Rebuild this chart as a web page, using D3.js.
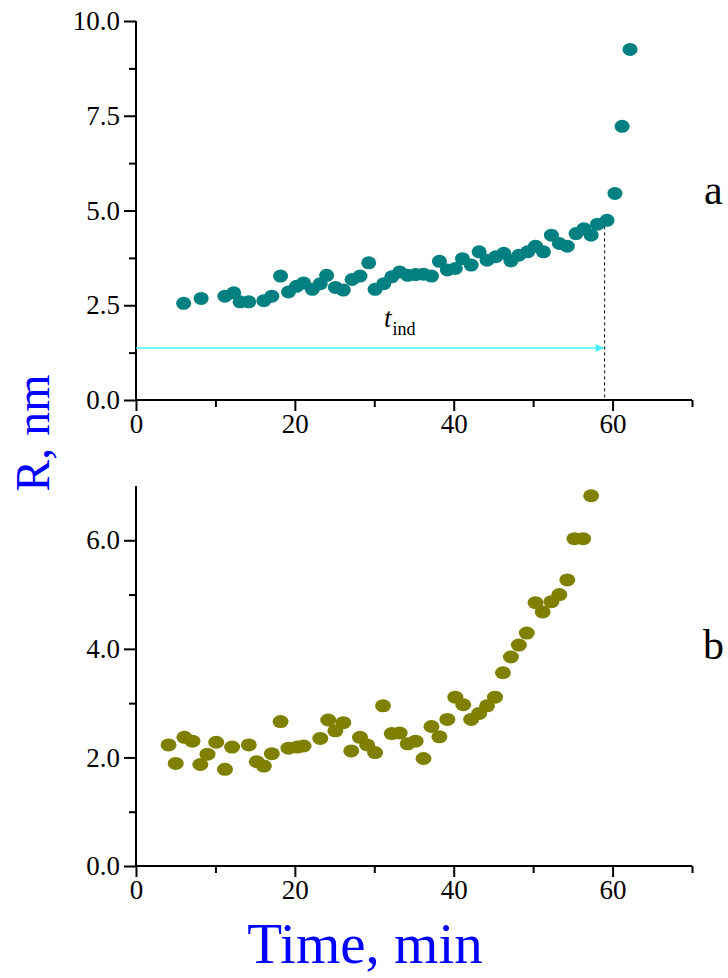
<!DOCTYPE html>
<html>
<head>
<meta charset="utf-8">
<script src="https://cdn.jsdelivr.net/npm/d3@7"></script>
<style>
  html, body { margin: 0; padding: 0; background: #fff; }
  svg { display: block; }
  svg text { font-family: "Liberation Serif", "Times New Roman", serif !important; }
  .tick text { font-size: 27px !important; fill: #000; }
</style>
</head>
<body>
<svg id="chart" width="728" height="978"></svg>
<script>
// ---------- data ----------
const topX = [6.0, 8.2, 11.2, 12.3, 13.1, 14.2, 16.1, 17.1, 18.2, 19.2,
              20.2, 21.1, 22.2, 23.2, 24.0, 25.1, 26.1, 27.2, 28.2, 29.3,
              30.1, 31.2, 32.2, 33.2, 34.2, 35.2, 36.2, 37.2, 38.2, 39.2,
              40.2, 41.1, 42.2, 43.2, 44.2, 45.3, 46.3, 47.2, 48.2, 49.3,
              50.3, 51.3, 52.3, 53.3, 54.3, 55.4, 56.4, 57.3, 58.1, 59.3,
              60.3, 61.2, 62.2];
const topY = [2.55, 2.68, 2.74, 2.83, 2.59, 2.59, 2.62, 2.74, 3.27, 2.85,
              3.00, 3.09, 2.92, 3.07, 3.29, 2.97, 2.90, 3.18, 3.27, 3.62,
              2.92, 3.07, 3.25, 3.38, 3.29, 3.31, 3.32, 3.27, 3.66, 3.43,
              3.47, 3.73, 3.56, 3.91, 3.69, 3.78, 3.87, 3.67, 3.82, 3.91,
              4.06, 3.91, 4.35, 4.13, 4.06, 4.39, 4.52, 4.35, 4.64, 4.74,
              5.45, 7.22, 9.25];

const botX = [4.1, 5.0, 6.1, 7.1, 8.1, 9.0, 10.1, 11.2, 12.1, 14.2,
              15.2, 16.1, 17.1, 18.2, 19.2, 20.3, 21.1, 23.2, 24.2, 25.1,
              26.1, 27.1, 28.2, 29.1, 30.1, 31.1, 32.2, 33.2, 34.2, 35.2,
              36.2, 37.2, 38.2, 39.2, 40.2, 41.2, 42.2, 43.2, 44.2, 45.2,
              46.2, 47.2, 48.2, 49.2, 50.3, 51.2, 52.3, 53.3, 54.3, 55.2,
              56.3, 57.3];
const botY = [2.23, 1.89, 2.37, 2.30, 1.87, 2.06, 2.28, 1.78, 2.19, 2.23,
              1.92, 1.84, 2.07, 2.66, 2.17, 2.19, 2.21, 2.35, 2.69, 2.49,
              2.64, 2.12, 2.37, 2.23, 2.09, 2.95, 2.44, 2.45, 2.25, 2.30,
              1.98, 2.57, 2.38, 2.70, 3.11, 2.97, 2.70, 2.81, 2.95, 3.11,
              3.56, 3.85, 4.07, 4.29, 4.85, 4.68, 4.87, 5.00, 5.27, 6.03,
              6.03, 6.82];

const xMajor = [0, 20, 40, 60];
const xMinor = [10, 30, 50, 70];
const topMajor = [0, 2.5, 5, 7.5, 10];
const topMinor = [1.25, 3.75, 6.25, 8.75];
const botMajor = [0, 2, 4, 6];
const botMinor = [1, 3, 5];

const tInd = 59;        // induction time, min
const arrowY = 1.37;    // height of the t_ind arrow, nm

// ---------- layout ----------
const svg = d3.select("#chart");
const FONT = "Liberation Serif, Times New Roman, serif";
const x = d3.scaleLinear().domain([0, 70]).range([136, 692]);
const yTop = d3.scaleLinear().domain([0, 10]).range([400, 21]);
const yBot = d3.scaleLinear().domain([0, 7]).range([866, 486]);

function styleAxis(g) {
  g.attr("font-family", FONT).attr("font-size", 27);
  g.select(".domain").remove();
  g.selectAll(".tick line").attr("stroke", "#000").attr("stroke-width", 2);
  g.selectAll(".tick text").attr("font-family", FONT).attr("font-size", 27).attr("fill", "#000");
}

function drawAxes(yScale, major, minor, fmt) {
  const y0 = yScale(0);
  svg.append("g").attr("transform", `translate(0,${y0})`)
    .call(d3.axisBottom(x).tickValues(xMinor).tickSize(7).tickSizeOuter(0).tickFormat(""))
    .call(styleAxis);
  svg.append("g").attr("transform", `translate(0,${y0})`)
    .call(d3.axisBottom(x).tickValues(xMajor).tickSize(11).tickSizeOuter(0).tickPadding(3).tickFormat(d3.format("d")))
    .call(styleAxis);
  svg.append("g").attr("transform", `translate(${x(0)},0)`)
    .call(d3.axisLeft(yScale).tickValues(minor).tickSize(7).tickSizeOuter(0).tickFormat(""))
    .call(styleAxis);
  svg.append("g").attr("transform", `translate(${x(0)},0)`)
    .call(d3.axisLeft(yScale).tickValues(major).tickSize(12).tickSizeOuter(0).tickPadding(4).tickFormat(fmt))
    .call(styleAxis);
  svg.append("line").attr("x1", x(0)).attr("x2", x(70)).attr("y1", y0).attr("y2", y0)
    .attr("stroke", "#000").attr("stroke-width", 2);
  svg.append("line").attr("x1", x(0)).attr("x2", x(0)).attr("y1", yScale.range()[1]).attr("y2", y0)
    .attr("stroke", "#000").attr("stroke-width", 2);
}

drawAxes(yTop, topMajor, topMinor, d3.format(".1f"));
drawAxes(yBot, botMajor, botMinor, d3.format(".1f"));

// ---------- annotations (top panel) ----------
const defs = svg.append("defs");
defs.append("marker").attr("id", "arrow").attr("viewBox", "0 0 10 10")
  .attr("refX", 10).attr("refY", 5).attr("markerWidth", 15).attr("markerHeight", 8)
  .attr("markerUnits", "userSpaceOnUse").attr("orient", "auto")
  .append("path").attr("d", "M0,0 L10,5 L0,10 Z").attr("fill", "#44eeff");

svg.append("line")
  .attr("x1", x(0)).attr("x2", x(tInd) - 1)
  .attr("y1", yTop(arrowY)).attr("y2", yTop(arrowY))
  .attr("stroke", "#44eeff").attr("stroke-width", 1.5)
  .attr("marker-end", "url(#arrow)");

const lastPre = topY[topX.indexOf(59.3)];
svg.append("line")
  .attr("x1", x(tInd)).attr("x2", x(tInd))
  .attr("y1", yTop(lastPre)).attr("y2", yTop(0))
  .attr("stroke", "#000").attr("stroke-width", 1).attr("stroke-dasharray", "3,3");

const tl = svg.append("text").attr("x", 384).attr("y", 327)
  .attr("font-family", FONT).attr("fill", "#000");
tl.append("tspan").attr("font-style", "italic").attr("font-size", 27).text("t");
tl.append("tspan").attr("font-size", 18).attr("dy", 8).attr("dx", 1).text("ind");

// ---------- points ----------
svg.append("g").selectAll("ellipse").data(d3.zip(topX, topY)).join("ellipse")
  .attr("cx", d => x(d[0])).attr("cy", d => yTop(d[1]))
  .attr("rx", 7.5).attr("ry", 6.5).attr("fill", "#008080");

svg.append("g").selectAll("ellipse").data(d3.zip(botX, botY)).join("ellipse")
  .attr("cx", d => x(d[0])).attr("cy", d => yBot(d[1]))
  .attr("rx", 8).attr("ry", 6.5).attr("fill", "#808000");

// ---------- panel letters & axis titles ----------
svg.append("text").attr("x", 704).attr("y", 204).attr("font-family", FONT)
  .attr("font-size", 42).attr("fill", "#000").text("a");
svg.append("text").attr("x", 703).attr("y", 659).attr("font-family", FONT)
  .attr("font-size", 42).attr("fill", "#000").text("b");

svg.append("text").attr("transform", "translate(49,433) rotate(-90)")
  .attr("text-anchor", "middle").attr("font-family", FONT)
  .attr("font-size", 48).attr("fill", "#0000ff").text("R, nm");

svg.append("text").attr("x", 365).attr("y", 963)
  .attr("text-anchor", "middle").attr("font-family", FONT)
  .attr("font-size", 57).attr("fill", "#0000ff").text("Time, min");
</script>
</body>
</html>
